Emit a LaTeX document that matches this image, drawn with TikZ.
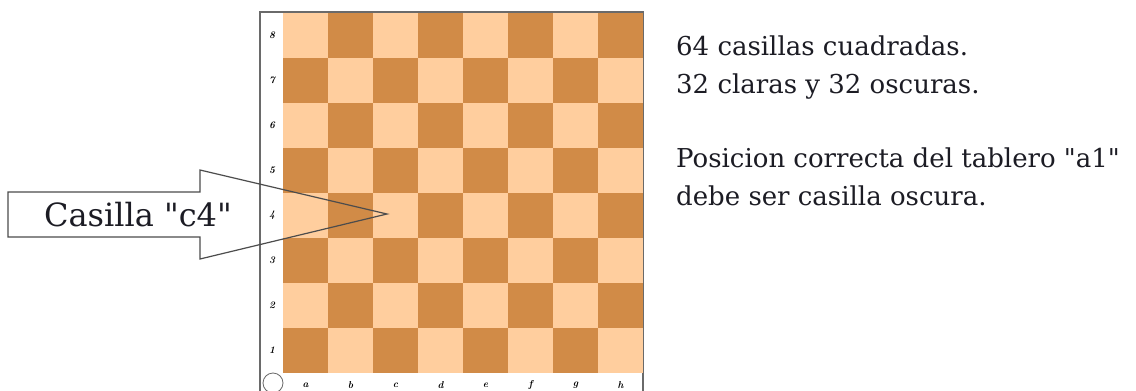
\documentclass[tikz,border=0pt]{standalone}
\usepackage{fontspec}
\setmainfont{DejaVu Serif}[Ligatures=TeXOff]
\newfontfamily\lmfont{Latin Modern Roman}
\definecolor{lightsq}{HTML}{FFCE9E}
\definecolor{darksq}{HTML}{D18B47}
\definecolor{framec}{HTML}{6A6A6A}
\definecolor{txt}{HTML}{1C1C24}
\tikzset{
  coordlbl/.style={font=\lmfont\bfseries\itshape\fontsize{10}{10}\selectfont, text=black, inner sep=0pt},
  infotext/.style={font=\fontsize{26}{26}\selectfont, text=txt, anchor=base west, inner sep=0pt},
  arrowline/.style={draw=black!70, line width=1.2pt, line join=miter}
}
\begin{document}
\begin{tikzpicture}[x=1pt,y=-1pt]
\useasboundingbox (0,0) rectangle (1136,391);
\fill[white] (0,0) rectangle (1136,391);
% board frame
\begin{scope}
\clip (0,0) rectangle (1136,391);
\draw[framec, line width=1.4pt] (260,12) rectangle (643,400);
\end{scope}
% squares
\foreach \f in {0,...,7}{
  \foreach \r in {1,...,8}{
    \pgfmathtruncatemacro{\sqpar}{mod(\f+\r,2)}
    \ifnum\sqpar=1
      \fill[darksq] ({283+45*\f},{373-45*\r}) rectangle ++(45,45);
    \else
      \fill[lightsq] ({283+45*\f},{373-45*\r}) rectangle ++(45,45);
    \fi
  }
}
\draw[framec, line width=0.8pt] (643,12) -- (643,391);
% rank labels
\foreach \r in {1,...,8}{
  \node[coordlbl] (rank\r) at (272,{373-45*\r+22.5}) {\r};
}
% file labels
\foreach \l [count=\i from 0] in {a,b,c,d,e,f,g,h}{
  \node[coordlbl] (file\l) at ({283+45*\i+22.5},385) {\l};
}
% corner circle
\node[circle, draw=framec, fill=white, line width=0.8pt, minimum size=20pt, inner sep=0pt] (corner) at (273,383) {};
% arrow
\coordinate (tip) at (387,214);
\draw[arrowline] (8,192) -- (200,192) -- (200,170) -- (tip) -- (200,259) -- (200,237) -- (8,237) -- cycle;
\node[font=\fontsize{32}{32}\selectfont, text=txt, anchor=base, inner sep=0pt] (label) at (138,226) {Casilla "c4"};
% info text
\node[infotext] (l1) at (676,55) {64 casillas cuadradas.};
\node[infotext] (l2) at (676,93) {32 claras y 32 oscuras.};
\node[infotext] (l3) at (676,167) {Posicion correcta del tablero "a1"};
\node[infotext] (l4) at (676,205) {debe ser casilla oscura.};
\end{tikzpicture}
\end{document}
